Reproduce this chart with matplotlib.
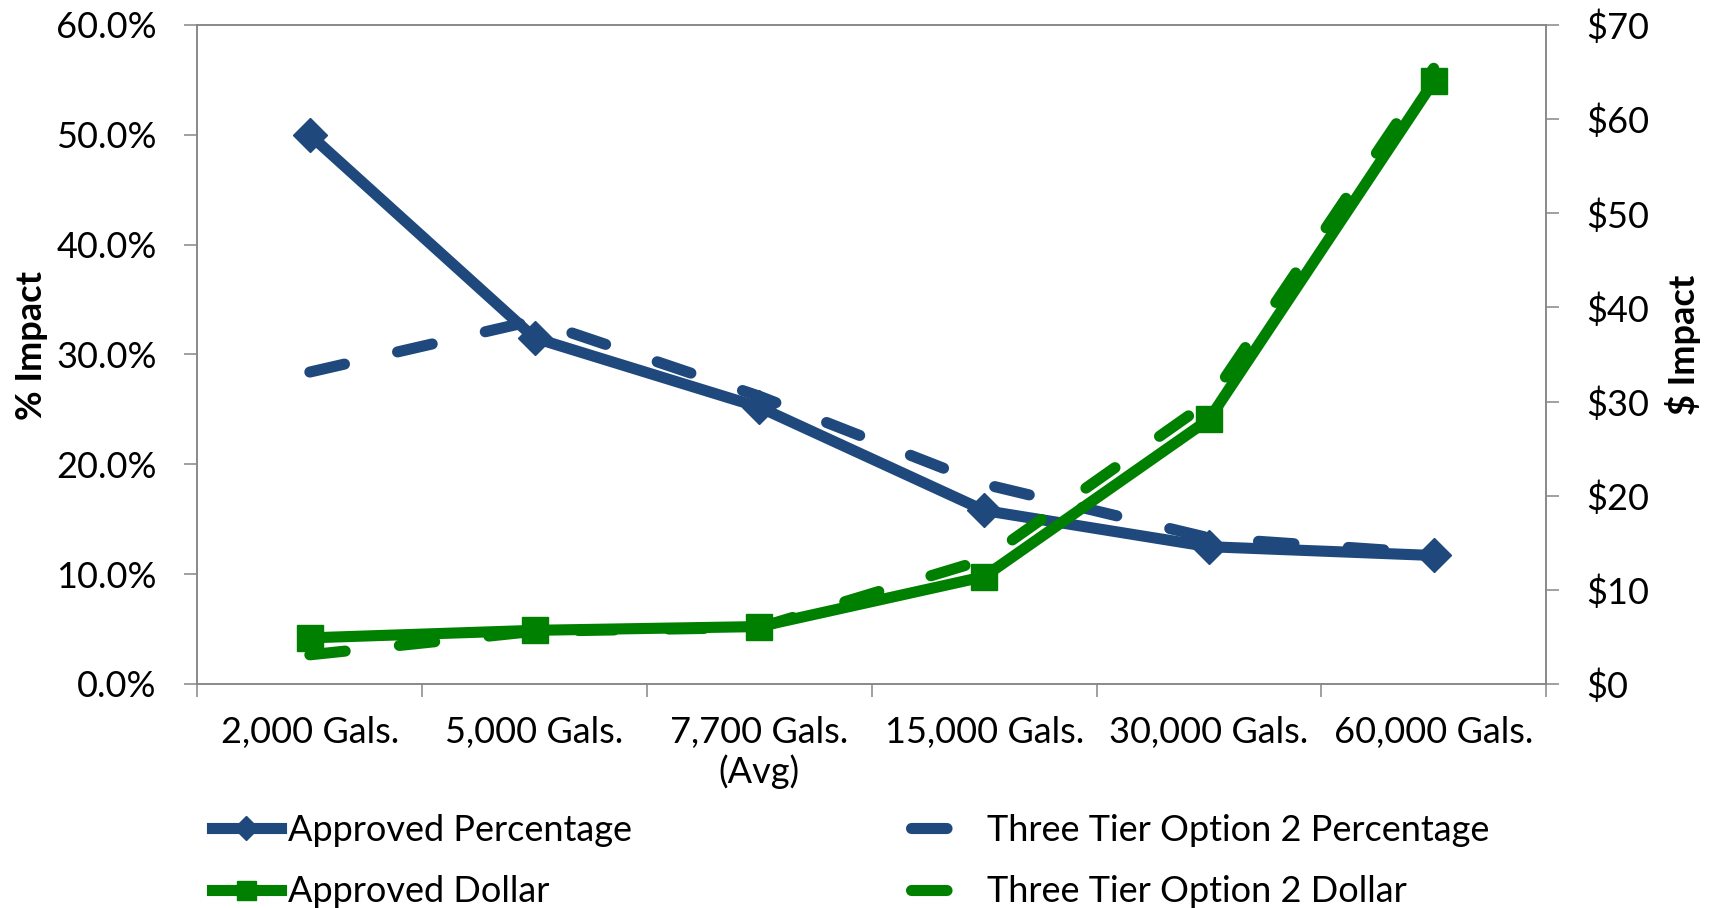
import matplotlib.pyplot as plt

# data
categories = ['2,000 Gals.', '5,000 Gals.', '7,700 Gals.\n(Avg)',
              '15,000 Gals.', '30,000 Gals.', '60,000 Gals.']
approved_pct = [50.0, 31.5, 25.2, 15.8, 12.5, 11.7]
three_tier_pct = [28.4, 33.1, 26.2, 18.2, 13.3, 11.9]
approved_dollar = [4.9, 5.7, 6.1, 11.4, 28.1, 64.0]
three_tier_dollar = [3.1, 5.6, 6.0, 13.2, 30.0, 65.4]

pct_ticks = [0, 10, 20, 30, 40, 50, 60]
pct_labels = ['0.0%', '10.0%', '20.0%', '30.0%', '40.0%', '50.0%', '60.0%']
dollar_ticks = [0, 10, 20, 30, 40, 50, 60, 70]
dollar_labels = ['$0', '$10', '$20', '$30', '$40', '$50', '$60', '$70']

blue = '#1F497D'
green = '#008000'
grey = '#868686'

plt.rcParams['font.family'] = ['Lato', 'DejaVu Sans']
plt.rcParams['font.size'] = 26

fig = plt.figure(figsize=(17.11, 9.08), dpi=100)
ax = fig.add_axes([0.1154, 0.2467, 0.7882, 0.7258])
ax2 = ax.twinx()

x = list(range(len(categories)))
dash = (3.2, 4.9)

l1, = ax.plot(x, approved_pct, color=blue, lw=8, marker='D', ms=17,
              solid_joinstyle='round', label='Approved Percentage')
l2, = ax.plot(x, three_tier_pct, color=blue, lw=8, dashes=dash,
              dash_capstyle='round', dash_joinstyle='round',
              label='Three Tier Option 2 Percentage')
l3, = ax2.plot(x, approved_dollar, color=green, lw=8, marker='s', ms=19,
               solid_joinstyle='round', label='Approved Dollar')
l4, = ax2.plot(x, three_tier_dollar, color=green, lw=8, dashes=dash,
               dash_capstyle='round', dash_joinstyle='round',
               label='Three Tier Option 2 Dollar')

ax.set_xlim(-0.5, len(categories) - 0.5)
ax.set_ylim(0, 60)
ax2.set_ylim(0, 70)

ax.set_xticks(x, categories)
ax.set_xticks([i - 0.5 for i in range(len(categories) + 1)], minor=True)
ax.tick_params(axis='x', which='major', length=0, pad=23)
ax.tick_params(axis='x', which='minor', length=9, width=1.1, color=grey)

ax.set_yticks(pct_ticks, pct_labels)
ax.tick_params(axis='y', length=9.4, width=1.1, color=grey, pad=20)
ax2.set_yticks(dollar_ticks, dollar_labels)
ax2.tick_params(axis='y', length=9.4, width=1.1, color=grey, pad=19.5)

for a in (ax, ax2):
    for s in a.spines.values():
        s.set_color(grey)
        s.set_linewidth(1.1)

fig.text(31 / 1711, 1 - 345 / 908, '% Impact', rotation=90,
         ha='center', va='center', fontweight='bold')
fig.text(1683 / 1711, 1 - 345 / 908, '$ Impact', rotation=90,
         ha='center', va='center', fontweight='bold')

leg_kw = dict(loc='center left', frameon=False, borderpad=0, borderaxespad=0,
              handlelength=1.9, handletextpad=0.2, labelspacing=0.8,
              markerscale=0.72, numpoints=1)
fig.legend([l1, l3], [l1.get_label(), l3.get_label()],
           bbox_to_anchor=(212 / 1711, 1 - 861 / 908), **leg_kw)
fig.legend([l2, l4], [l2.get_label(), l4.get_label()],
           bbox_to_anchor=(911 / 1711, 1 - 861 / 908), **leg_kw)

fig.savefig('out.png', dpi=100)
